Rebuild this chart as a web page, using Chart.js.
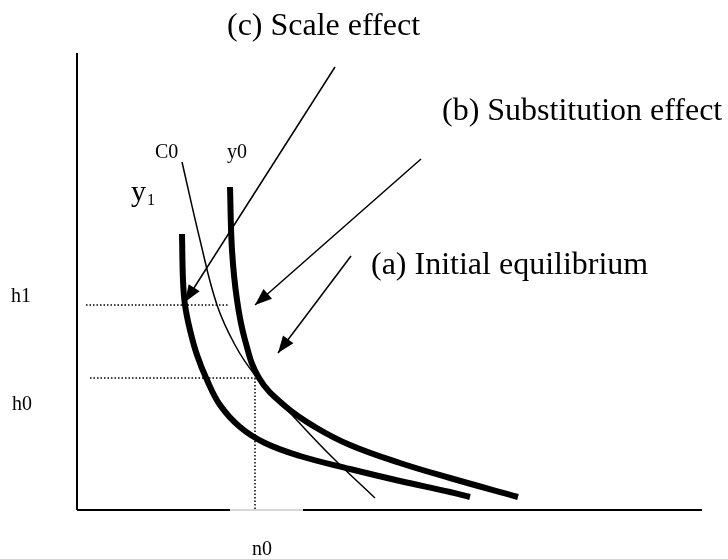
<!DOCTYPE html>
<html>
<head>
<meta charset="utf-8">
<script src="https://cdn.jsdelivr.net/npm/chart.js@4.4.1/dist/chart.umd.min.js"></script>
<style>
  html, body { margin: 0; padding: 0; background: #fff; }
  #wrap { width: 728px; height: 559px; }
</style>
</head>
<body>
<div id="wrap"><canvas id="chart" width="728" height="559"></canvas></div>
<script>
// chart units: x 0..125 (n), y 0..91.4 (h)
const y0Curve = [
  { x: 30.6, y: 64.6 }, { x: 31.0, y: 52.0 }, { x: 32.0, y: 42.0 }, { x: 33.6, y: 34.0 },
  { x: 36.4, y: 26.4 }, { x: 41.6, y: 20.8 }, { x: 47.6, y: 16.6 }, { x: 54.6, y: 13.0 },
  { x: 64.6, y: 9.4 }, { x: 74.6, y: 6.4 }, { x: 88.2, y: 2.6 }
];
const y1Curve = [
  { x: 21.0, y: 55.2 }, { x: 21.2, y: 46.0 }, { x: 21.6, y: 41.0 }, { x: 22.6, y: 36.0 },
  { x: 24.0, y: 31.0 }, { x: 26.0, y: 26.0 }, { x: 28.6, y: 21.0 }, { x: 32.6, y: 16.6 },
  { x: 37.6, y: 13.4 }, { x: 44.6, y: 10.8 }, { x: 54.6, y: 8.2 }, { x: 64.6, y: 5.8 },
  { x: 74.6, y: 3.6 }, { x: 78.6, y: 2.6 }
];
const c0Curve = [
  { x: 21.0, y: 69.6 }, { x: 24.6, y: 54.0 }, { x: 28.0, y: 41.0 }, { x: 31.6, y: 33.0 },
  { x: 35.6, y: 27.0 }, { x: 43.0, y: 19.0 }, { x: 51.0, y: 10.6 }, { x: 59.6, y: 2.4 }
];

// equilibrium values
const h0 = 26.4;
const h1 = 41.0;
const n0 = 35.6;

// arrows: [start, tip]
const arrowScale = [{ x: 51.6, y: 88.6 }, { x: 21.6, y: 41.6 }];
const arrowSubst = [{ x: 68.8, y: 70.2 }, { x: 35.6, y: 41.0 }];
const arrowInit = [{ x: 54.8, y: 50.8 }, { x: 40.2, y: 31.4 }];

const xMax = 125;
const yMax = 91.4;

const BIG = '32px "Liberation Serif", "Times New Roman", serif';
const SMALL = '20px "Liberation Serif", "Times New Roman", serif';

// text labels, anchored at left/baseline in chart units
const notes = [
  { text: '(c) Scale effect', x: 30, y: 95, font: BIG },
  { text: '(b) Substitution effect', x: 73, y: 78, font: BIG },
  { text: '(a) Initial equilibrium', x: 58.8, y: 47.2, font: BIG },
  { text: 'C0', x: 15.6, y: 70.4, font: SMALL },
  { text: 'y0', x: 30, y: 70.4, font: SMALL },
  { text: 'h1', x: -13.2, y: 41.6, font: SMALL },
  { text: 'h0', x: -13, y: 20, font: SMALL },
  { text: 'n0', x: 35, y: -9, font: SMALL }
];

function line(data, width, extra = {}) {
  return Object.assign({
    data: data,
    borderColor: '#000',
    borderWidth: width,
    pointRadius: 0,
    fill: false,
    showLine: true,
    tension: 0,
    borderCapStyle: 'butt',
    clip: false
  }, extra);
}

// draws arrow heads and the text labels
const extrasPlugin = {
  id: 'extras',
  afterDatasetsDraw(chart) {
    const { ctx, scales: { x, y } } = chart;
    ctx.save();
    chart.data.datasets.forEach(ds => {
      if (!ds.arrow) return;
      const a = ds.data[0], b = ds.data[1];
      const x1 = x.getPixelForValue(a.x), y1 = y.getPixelForValue(a.y);
      const x2 = x.getPixelForValue(b.x), y2 = y.getPixelForValue(b.y);
      const ang = Math.atan2(y2 - y1, x2 - x1);
      const len = 17, half = 6.5;
      ctx.fillStyle = '#000';
      ctx.beginPath();
      ctx.moveTo(x2, y2);
      ctx.lineTo(x2 - len * Math.cos(ang) + half * Math.sin(ang), y2 - len * Math.sin(ang) - half * Math.cos(ang));
      ctx.lineTo(x2 - len * Math.cos(ang) - half * Math.sin(ang), y2 - len * Math.sin(ang) + half * Math.cos(ang));
      ctx.closePath();
      ctx.fill();
    });

    ctx.fillStyle = '#000';
    ctx.textBaseline = 'alphabetic';
    ctx.textAlign = 'left';
    notes.forEach(n => {
      ctx.font = n.font;
      ctx.fillText(n.text, x.getPixelForValue(n.x), y.getPixelForValue(n.y));
    });

    // y1 label with subscript
    const lx = x.getPixelForValue(10.8), ly = y.getPixelForValue(61.8);
    ctx.font = '30px "Liberation Serif", "Times New Roman", serif';
    ctx.fillText('y', lx, ly);
    const w = ctx.measureText('y').width;
    ctx.font = '16px "Liberation Serif", "Times New Roman", serif';
    ctx.fillText('1', lx + w + 1, ly + 4);
    ctx.restore();
  }
};

const ctx = document.getElementById('chart').getContext('2d');
new Chart(ctx, {
  type: 'scatter',
  data: {
    datasets: [
      // axes
      line([{ x: 0, y: 0 }, { x: 0, y: yMax }], 2),
      line([{ x: 0, y: 0 }, { x: 30.6, y: 0 }], 2),
      line([{ x: 30.6, y: 0 }, { x: 45.2, y: 0 }], 1.5, { borderColor: '#c8c8c8' }),
      line([{ x: 45.2, y: 0 }, { x: xMax, y: 0 }], 2),
      // dotted guides
      line([{ x: 1.8, y: h1 }, { x: 30.2, y: h1 }], 1.5, { borderDash: [1.5, 2] }),
      line([{ x: 2.6, y: h0 }, { x: n0, y: h0 }], 1.5, { borderDash: [1.5, 2] }),
      line([{ x: n0, y: h0 }, { x: n0, y: 0 }], 1.5, { borderDash: [1.5, 2] }),
      // curves
      line(c0Curve, 1.5, { tension: 0.4 }),
      line(y1Curve, 6, { tension: 0.4 }),
      line(y0Curve, 6, { tension: 0.4 }),
      // arrows
      line(arrowScale, 1.5, { arrow: true }),
      line(arrowSubst, 1.5, { arrow: true }),
      line(arrowInit, 1.5, { arrow: true })
    ]
  },
  options: {
    responsive: false,
    animation: false,
    layout: { padding: { left: 77, right: 26, top: 53, bottom: 49 } },
    scales: {
      x: { type: 'linear', min: 0, max: xMax, display: false },
      y: { type: 'linear', min: 0, max: yMax, display: false }
    },
    plugins: {
      legend: { display: false },
      tooltip: { enabled: false }
    }
  },
  plugins: [extrasPlugin]
});
</script>
</body>
</html>
